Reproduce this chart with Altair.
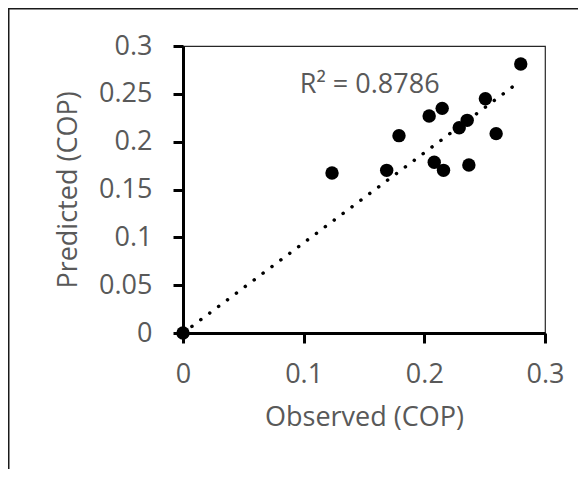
import altair as alt
import pandas as pd

# Observed vs predicted COP values
observed = [0.0, 0.1235, 0.1688, 0.1790, 0.2040, 0.2148, 0.2082, 0.2159,
            0.2289, 0.2355, 0.2369, 0.2506, 0.2595, 0.2799]
predicted = [0.0, 0.1672, 0.1700, 0.2063, 0.2268, 0.2348, 0.1784, 0.1700,
             0.2146, 0.2223, 0.1756, 0.2449, 0.2084, 0.2812]

# Linear trendline end points
trend_x = [0.0, 0.28]
trend_y = [0.0, 0.2638]

r2_label = ["R² = 0.8786"]
r2_x = [0.1547]
r2_y = [0.2509]

x_ticks = [0, 0.1, 0.2, 0.3]
y_ticks = [0, 0.05, 0.1, 0.15, 0.2, 0.25, 0.3]

FONT = "Open Sans"
GREY = "#595959"
FS = 27

pts = pd.DataFrame({"obs": observed, "pred": predicted})
trend = pd.DataFrame({"obs": trend_x, "pred": trend_y})
lab = pd.DataFrame({"obs": r2_x, "pred": r2_y, "t": r2_label})
frame = pd.DataFrame({"a": [0]})

xscale = alt.Scale(domain=[0, 0.3], nice=False, zero=True)
yscale = alt.Scale(domain=[0, 0.3], nice=False, zero=True)

xaxis = alt.Axis(values=x_ticks, title="Observed (COP)", grid=False,
                 domainColor="black", domainWidth=3, tickColor="black",
                 tickWidth=3, tickSize=10, labelPadding=18,
                 labelFont=FONT, labelFontSize=FS, labelColor=GREY,
                 titleFont=FONT, titleFontSize=FS, titleColor=GREY,
                 titleFontWeight="normal", titlePadding=17,
                 format="~g", labelFlush=False)
yaxis = alt.Axis(values=y_ticks, title="Predicted (COP)", grid=False,
                 domainColor="black", domainWidth=3, tickColor="black",
                 tickWidth=3, tickSize=10, labelPadding=21,
                 labelFont=FONT, labelFontSize=FS, labelColor=GREY,
                 titleFont=FONT, titleFontSize=FS, titleColor=GREY,
                 titleFontWeight="normal", titlePadding=16,
                 format="~g", labelFlush=False)

border = alt.Chart(frame).mark_rect(
    fill=None, stroke="#1a1a1a", strokeWidth=1.5
).encode(
    x=alt.value(-174.25), x2=alt.value(700),
    y=alt.value(-37.25), y2=alt.value(700)
)

line = alt.Chart(trend).mark_line(
    color="black", strokeWidth=3.5, strokeDash=[0.1, 11], strokeCap="round"
).encode(
    x=alt.X("obs:Q", scale=xscale, axis=xaxis),
    y=alt.Y("pred:Q", scale=yscale, axis=yaxis),
)

points = alt.Chart(pts).mark_circle(
    color="black", size=180, opacity=1
).encode(
    x=alt.X("obs:Q", scale=xscale),
    y=alt.Y("pred:Q", scale=yscale),
)

text = alt.Chart(lab).mark_text(
    font=FONT, fontSize=FS, color=GREY, align="center", baseline="alphabetic"
).encode(
    x=alt.X("obs:Q", scale=xscale),
    y=alt.Y("pred:Q", scale=yscale),
    text="t:N",
)

chart = alt.layer(border, line, points, text).properties(
    width=362, height=287,
    autosize=alt.AutoSizeParams(type="none"),
    padding={"left": 175, "top": 38, "right": 33, "bottom": 136},
).configure_view(
    stroke="#262626", strokeWidth=1.2
)

chart.save("out.html", embed_options={"renderer": "svg", "actions": False})
